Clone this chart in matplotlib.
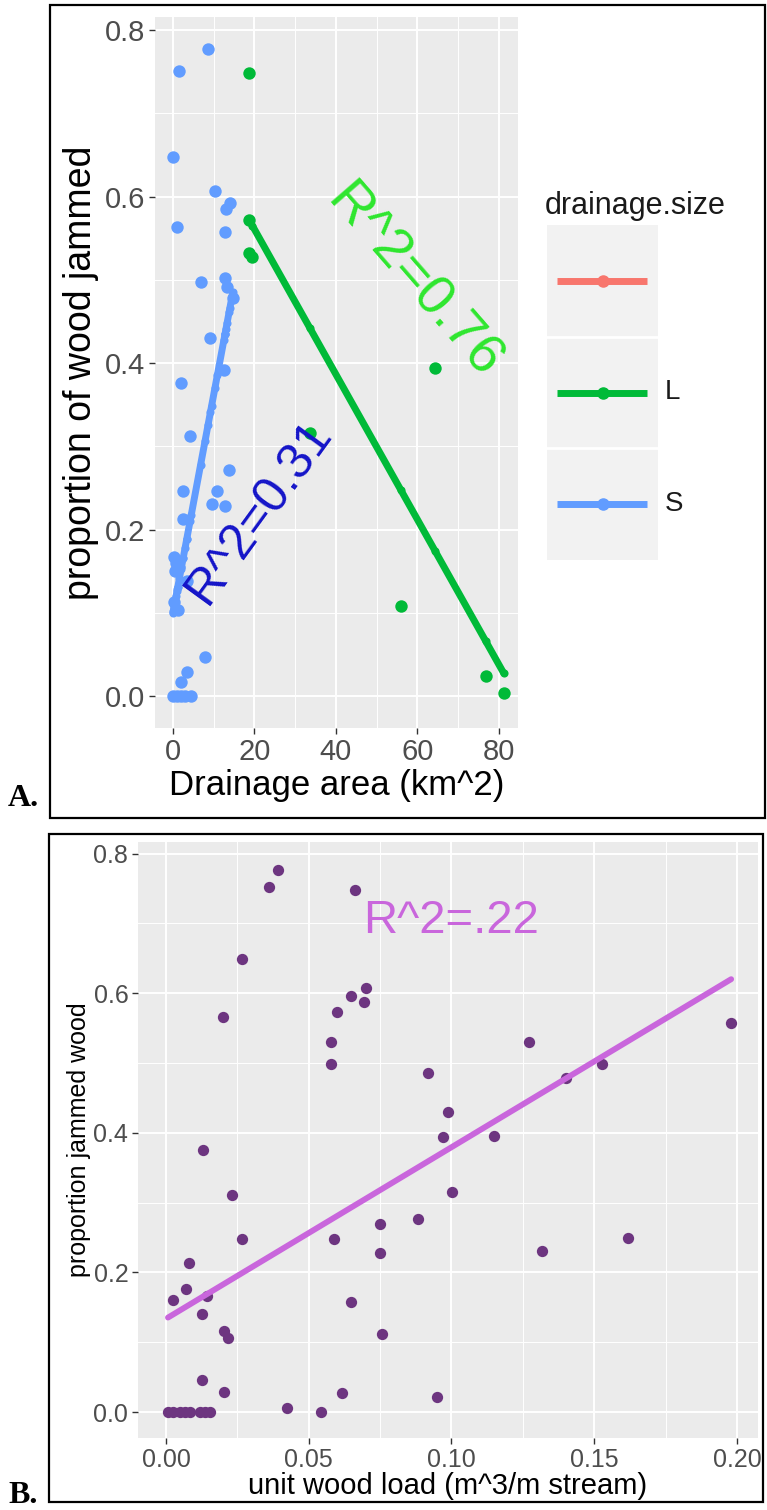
import numpy as np
import matplotlib.pyplot as plt
from matplotlib.patches import Rectangle
from matplotlib.ticker import MultipleLocator

plt.rcParams['font.family'] = ['Liberation Sans', 'DejaVu Sans']

# ---- panel A data: drainage area vs proportion of wood jammed ----
s_area = [8.6, 1.6, 0.1, 10.3, 14.0, 13.0, 1.1, 12.8, 6.8, 12.8, 13.3, 14.7, 9.2, 12.5,
          2.1, 4.2, 13.8, 10.9, 9.5, 12.8, 2.5, 2.5, 0.3, 0.8, 1.2, 0.5, 3.4, 0.2, 1.2,
          7.9, 3.4, 2.1, 0.0, 1.0, 2.0, 3.0, 4.5]
s_prop = [0.777, 0.751, 0.648, 0.607, 0.592, 0.585, 0.564, 0.557, 0.497, 0.502, 0.492, 0.478,
          0.430, 0.392, 0.376, 0.313, 0.272, 0.247, 0.231, 0.229, 0.247, 0.213, 0.167, 0.160,
          0.155, 0.150, 0.139, 0.113, 0.104, 0.047, 0.029, 0.017, 0.0, 0.0, 0.0, 0.0, 0.0]
l_area = [18.7, 18.7, 18.7, 19.5, 33.6, 55.9, 64.3, 76.8, 81.2]
l_prop = [0.748, 0.572, 0.532, 0.528, 0.316, 0.109, 0.394, 0.024, 0.004]
# linear fits (intercept, slope)
s_fit = (0.100, 0.0262)
l_fit = (0.735, -0.00871)

# ---- panel B data: unit wood load vs proportion jammed ----
load = [0.0394, 0.0362, 0.0662, 0.0267, 0.0201, 0.0600, 0.0647, 0.0700, 0.0694, 0.0577, 0.0577,
        0.0129, 0.0919, 0.0989, 0.0972, 0.1003, 0.0884, 0.0750, 0.0750, 0.0589, 0.0265, 0.0232,
        0.0648, 0.0756, 0.1980, 0.1273, 0.1529, 0.1402, 0.1150, 0.1319, 0.1617, 0.0951, 0.0081,
        0.0069, 0.0026, 0.0143, 0.0127, 0.0203, 0.0218, 0.0127, 0.0203, 0.0616, 0.0423, 0.0542,
        0.0007, 0.0025, 0.0050, 0.0067, 0.0084, 0.0119, 0.0137, 0.0154]
jammed = [0.777, 0.752, 0.748, 0.649, 0.566, 0.573, 0.596, 0.608, 0.587, 0.530, 0.499,
          0.375, 0.486, 0.430, 0.394, 0.315, 0.276, 0.270, 0.228, 0.248, 0.248, 0.311,
          0.157, 0.112, 0.558, 0.530, 0.499, 0.478, 0.396, 0.231, 0.249, 0.021, 0.214,
          0.176, 0.160, 0.166, 0.140, 0.116, 0.106, 0.046, 0.029, 0.027, 0.006, 0.0,
          0.0, 0.0, 0.0, 0.0, 0.0, 0.0, 0.0, 0.0]
b_fit = (0.1336, 2.457)

legend_labels = ["", "L", "S"]
c_na, c_l, c_s = "#F8766D", "#00BA38", "#619CFF"
c_pts, c_line = "#6D3580", "#C966DC"

W, H = 767, 1510
fig = plt.figure(figsize=(W / 100, H / 100), dpi=100)


def style(ax, fs):
    ax.set_facecolor("#EBEBEB")
    for sp in ax.spines.values():
        sp.set_visible(False)
    ax.grid(True, which="major", color="white", lw=1.4, zorder=0)
    ax.grid(True, which="minor", color="white", lw=0.7, zorder=0)
    ax.set_axisbelow(True)
    ax.tick_params(which="major", length=4, width=1, color="#333333", labelcolor="#4D4D4D",
                   labelsize=fs, pad=3)
    ax.tick_params(which="minor", length=0)


def px_axes(x0, y0, x1, y1):
    return fig.add_axes([x0 / W, 1 - y1 / H, (x1 - x0) / W, (y1 - y0) / H])


# ---------------- panel A ----------------
axA = px_axes(155, 17, 518, 728)
style(axA, 21)
axA.set_xlim(-4.4, 84.7)
axA.set_ylim(-0.038, 0.8156)
axA.xaxis.set_major_locator(MultipleLocator(20))
axA.xaxis.set_minor_locator(MultipleLocator(10))
axA.yaxis.set_major_locator(MultipleLocator(0.2))
axA.yaxis.set_minor_locator(MultipleLocator(0.1))
axA.yaxis.set_major_formatter(lambda v, p: f"{v:.1f}")

for xs, ys, fit, col in [(s_area, s_prop, s_fit, c_s), (l_area, l_prop, l_fit, c_l)]:
    xs = np.array(xs)
    axA.scatter(xs, ys, s=80, color=col, zorder=3, linewidths=0)
    fx = np.array([xs.min(), xs.max()])
    axA.plot(fx, fit[0] + fit[1] * fx, color=col, lw=5, zorder=3, solid_capstyle="round")
    axA.scatter(xs, fit[0] + fit[1] * xs, s=34, color=col, zorder=3, linewidths=0)

axA.text(21.1, 0.222, "R^2=0.31", color="#1414C8", fontsize=36, rotation=54,
         ha="center", va="center", rotation_mode="anchor", zorder=5)
axA.text(58.9, 0.497, "R^2=0.76", color="#2EE62E", fontsize=40, rotation=-49,
         ha="center", va="center", rotation_mode="anchor", zorder=5)

axA.set_xlabel("Drainage area (km^2)", fontsize=25, labelpad=2)
axA.set_ylabel("proportion of wood jammed", fontsize=27, labelpad=4)

# legend for A drawn as ggplot-style key boxes
axL = px_axes(547, 225, 658, 560)
axL.set_facecolor("#F2F2F2")
axL.set_xlim(0, 1)
axL.set_ylim(0, 3)
axL.set_xticks([])
axL.set_yticks([])
for sp in axL.spines.values():
    sp.set_visible(False)
for yy in [1, 2]:
    axL.axhline(yy, color="white", lw=2)
for i, (lab, col) in enumerate(zip(legend_labels, [c_na, c_l, c_s])):
    yc = 2.5 - i
    axL.plot([0.09, 0.9], [yc, yc], color=col, lw=5, solid_capstyle="butt")
    axL.plot([0.5], [yc], "o", color=col, ms=8)
    fig.text(665 / W, 1 - (280 + 112 * i) / H, lab, fontsize=20, color="#1A1A1A",
             ha="left", va="center")
fig.text(545 / W, 1 - 206 / H, "drainage.size", fontsize=22, color="#1A1A1A",
         ha="left", va="center")

# ---------------- panel B ----------------
axB = px_axes(138, 842, 758, 1438)
style(axB, 18)
axB.set_xlim(-0.0098, 0.2074)
axB.set_ylim(-0.0372, 0.8166)
axB.xaxis.set_major_locator(MultipleLocator(0.05))
axB.xaxis.set_minor_locator(MultipleLocator(0.025))
axB.yaxis.set_major_locator(MultipleLocator(0.2))
axB.yaxis.set_minor_locator(MultipleLocator(0.1))
axB.xaxis.set_major_formatter(lambda v, p: f"{v:.2f}")
axB.yaxis.set_major_formatter(lambda v, p: f"{v:.1f}")

load_a = np.array(load)
axB.scatter(load_a, jammed, s=66, color=c_pts, zorder=3, linewidths=0)
fx = np.array([load_a.min(), load_a.max()])
axB.plot(fx, b_fit[0] + b_fit[1] * fx, color=c_line, lw=4.2, zorder=4, solid_capstyle="round")
axB.text(0.100, 0.703, "R^2=.22", color=c_line, fontsize=34, ha="center", va="center", zorder=5)

axB.set_xlabel("unit wood load (m^3/m stream)", fontsize=21, labelpad=0)
axB.set_ylabel("proportion jammed wood", fontsize=18, labelpad=2)

# panel frames and letters
fig.add_artist(Rectangle((50 / W, 1 - 818 / H), 715 / W, 813 / H, transform=fig.transFigure,
                         fill=False, ec="black", lw=1.6))
fig.add_artist(Rectangle((49 / W, 1 - 1502 / H), 714 / W, 668 / H, transform=fig.transFigure,
                         fill=False, ec="black", lw=1.6))
fig.text(8 / W, 1 - 806 / H, "A.", fontsize=23, fontweight="bold", family="Liberation Serif",
         ha="left", va="baseline")
fig.text(8 / W, 1 - 1503 / H, "B.", fontsize=23, fontweight="bold", family="Liberation Serif",
         ha="left", va="baseline")

fig.savefig("out.png", dpi=100)
